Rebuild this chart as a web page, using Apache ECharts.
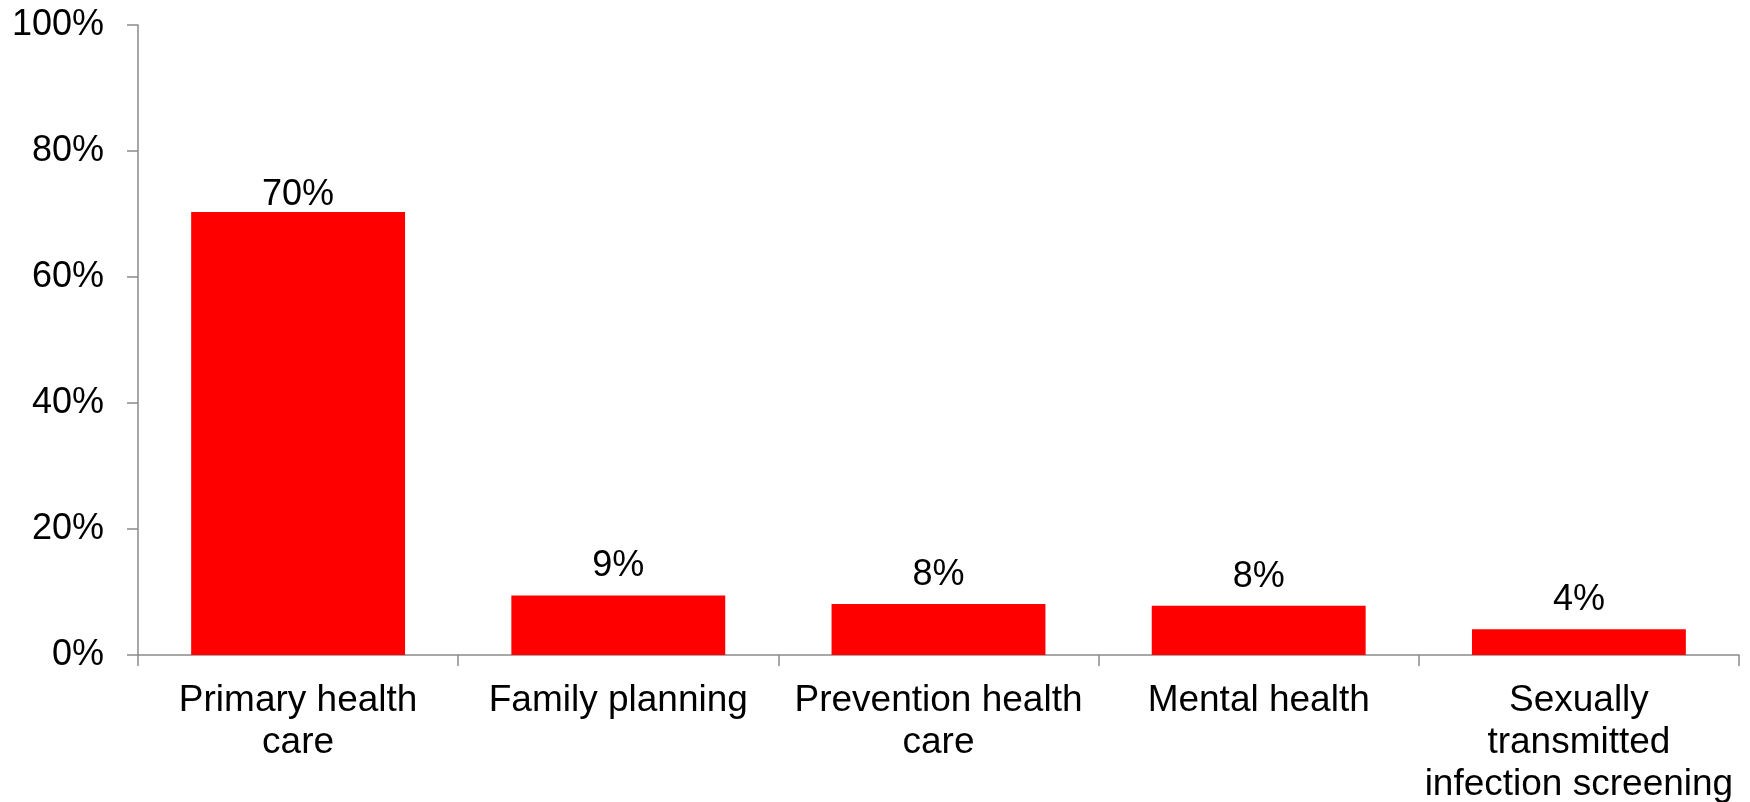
<!DOCTYPE html>
<html>
<head>
<meta charset="utf-8">
<style>
  html, body { margin: 0; padding: 0; background: #ffffff; overflow: hidden; }
  #chart { width: 1750px; height: 802px; }
</style>
<script src="https://cdn.jsdelivr.net/npm/echarts@6/dist/echarts.min.js"></script>
</head>
<body>
<div id="chart"></div>
<script>
const categories = [
  "Primary health\ncare",
  "Family planning",
  "Prevention health\ncare",
  "Mental health",
  "Sexually\ntransmitted\ninfection screening"
];
const values = [70.3, 9.45, 8.1, 7.8, 4.1];
const yTickMax = 100;
const yTickStep = 20;

const FONT = '"Liberation Sans", Arial, Helvetica, sans-serif';
const AXIS_COLOR = '#8a8a8a';

const chart = echarts.init(document.getElementById('chart'), null, { renderer: 'canvas' });

const seriesData = values.map((v, i) => {
  const item = { value: v };
  if (i === 0) {
    item.label = { distance: -1 };
  }
  return item;
});

chart.setOption({
  animation: false,
  backgroundColor: '#ffffff',
  grid: { left: 138, right: 11, top: 25, bottom: 147, containLabel: false, outerBoundsMode: 'none' },
  xAxis: {
    type: 'category',
    data: categories,
    boundaryGap: true,
    axisLine: { show: true, lineStyle: { color: AXIS_COLOR, width: 1.5 } },
    axisTick: { show: true, alignWithLabel: false, length: 11, interval: 0, lineStyle: { color: AXIS_COLOR, width: 1.5 } },
    axisLabel: {
      interval: 0,
      margin: 25,
      color: '#000000',
      fontFamily: FONT,
      fontSize: 37,
      lineHeight: 42,
      align: 'center',
      hideOverlap: false
    },
    splitLine: { show: false }
  },
  yAxis: {
    type: 'value',
    min: 0,
    max: yTickMax,
    interval: yTickStep,
    axisLine: { show: true, lineStyle: { color: AXIS_COLOR, width: 1.5 } },
    axisTick: { show: true, length: 11, lineStyle: { color: AXIS_COLOR, width: 1.5 } },
    axisLabel: {
      margin: 34,
      color: '#000000',
      fontFamily: FONT,
      fontSize: 36,
      formatter: '{value}%'
    },
    splitLine: { show: false }
  },
  series: [{
    type: 'bar',
    data: seriesData,
    barWidth: '66.8%',
    itemStyle: { color: '#ff0000' },
    label: {
      show: true,
      position: 'top',
      distance: 11,
      color: '#000000',
      fontFamily: FONT,
      fontSize: 36,
      formatter: p => Math.round(p.value) + '%'
    }
  }]
});
</script>
</body>
</html>
